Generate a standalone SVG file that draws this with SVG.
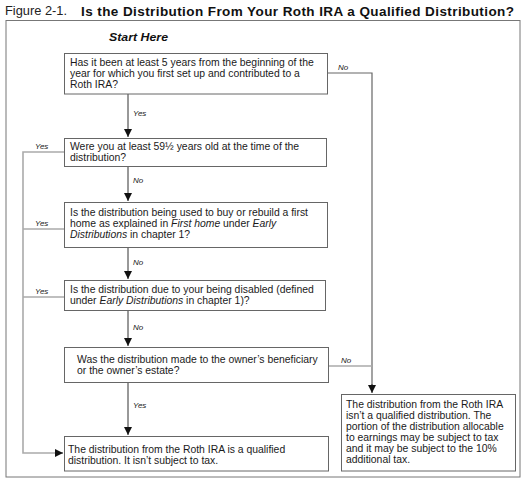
<svg xmlns="http://www.w3.org/2000/svg" width="525" height="480" viewBox="0 0 525 480">
<defs>
<marker id="ah" viewBox="0 0 8 8" refX="8" refY="4" markerWidth="8" markerHeight="8" markerUnits="userSpaceOnUse" orient="auto">
<path d="M0,0 L8,4 L0,8 Z" fill="#111"/>
</marker>
<style>
.t{font-family:"Liberation Sans",Arial,sans-serif;font-size:10.4px;fill:#1a1a1a}
.lbl{font-family:"Liberation Sans",Arial,sans-serif;font-size:8px;font-style:italic;fill:#222}
.box{fill:#fff;stroke:#666;stroke-width:1}
.dk{fill:none;stroke:#333;stroke-width:1}
.lt{fill:none;stroke:#aaa;stroke-width:1.6}
.md{fill:none;stroke:#666;stroke-width:1.2}
</style>
</defs>
<rect width="525" height="480" fill="#fff"/>
<text x="5" y="15" textLength="62" lengthAdjust="spacingAndGlyphs" style="font-family:'Liberation Sans',Arial,sans-serif;font-size:12px;fill:#222">Figure 2-1.</text>
<text x="81" y="15.5" textLength="433" lengthAdjust="spacing" style="font-family:'Liberation Sans',Arial,sans-serif;font-size:13.5px;font-weight:bold;fill:#111">Is the Distribution From Your Roth IRA a Qualified Distribution?</text>
<rect x="6" y="20.5" width="514" height="456.5" fill="none" stroke="#777" stroke-width="1"/>
<text x="109" y="41" textLength="59" lengthAdjust="spacingAndGlyphs" style="font-family:'Liberation Sans',Arial,sans-serif;font-size:11.5px;font-weight:bold;font-style:italic;fill:#111">Start Here</text>

<g id="connectors">
<line class="dk" x1="128" y1="93" x2="128" y2="137" marker-end="url(#ah)"/>
<text class="lbl" x="133" y="116">Yes</text>
<line class="dk" x1="128" y1="167" x2="128" y2="201" marker-end="url(#ah)"/>
<text class="lbl" x="133" y="183">No</text>
<line class="dk" x1="128" y1="248" x2="128" y2="279" marker-end="url(#ah)"/>
<text class="lbl" x="133" y="265">No</text>
<line class="dk" x1="128" y1="311" x2="128" y2="346" marker-end="url(#ah)"/>
<text class="lbl" x="133" y="330">No</text>
<line class="dk" x1="128" y1="383" x2="128" y2="435" marker-end="url(#ah)"/>
<text class="lbl" x="133" y="408">Yes</text>
<polyline class="md" points="327,73 372,73 372,385"/>
<line class="dk" x1="372" y1="384" x2="372" y2="393" marker-end="url(#ah)"/>
<text class="lbl" x="338" y="70">No</text>
<polyline class="lt" points="328,366 372,366"/>
<text class="lbl" x="341" y="363">No</text>
<polyline class="lt" points="64,152 23,152 23,453 56,453"/>
<line class="dk" x1="55" y1="453" x2="63" y2="453" marker-end="url(#ah)"/>
<line class="lt" x1="23" y1="229" x2="64" y2="229"/>
<line class="lt" x1="23" y1="297" x2="64" y2="297"/>
<text class="lbl" x="35" y="149">Yes</text>
<text class="lbl" x="35" y="226">Yes</text>
<text class="lbl" x="35" y="294">Yes</text>
</g>

<g id="q1">
<rect class="box" x="64.5" y="53.5" width="263" height="40.5"/>
<text class="t" x="70" y="66">Has it been at least 5 years from the beginning of the</text>
<text class="t" x="70" y="77">year for which you first set up and contributed to a</text>
<text class="t" x="70" y="88">Roth IRA?</text>
</g>
<g id="q2">
<rect class="box" x="64.5" y="138.5" width="262" height="28"/>
<text class="t" x="70" y="150">Were you at least 59½ years old at the time of the</text>
<text class="t" x="70" y="161">distribution?</text>
</g>
<g id="q3">
<rect class="box" x="64.5" y="202.5" width="263" height="45"/>
<text class="t" x="70" y="216">Is the distribution being used to buy or rebuild a first</text>
<text class="t" x="70" y="227">home as explained in <tspan font-style="italic">First home</tspan> under <tspan font-style="italic">Early</tspan></text>
<text class="t" x="70" y="238"><tspan font-style="italic">Distributions</tspan> in chapter 1?</text>
</g>
<g id="q4">
<rect class="box" x="64.5" y="280.5" width="261" height="30"/>
<text class="t" x="70" y="293">Is the distribution due to your being disabled (defined</text>
<text class="t" x="70" y="304">under <tspan font-style="italic">Early Distributions</tspan> in chapter 1)?</text>
</g>
<g id="q5">
<rect class="box" x="64.5" y="347.5" width="264" height="35"/>
<text class="t" x="77" y="363">Was the distribution made to the owner’s beneficiary</text>
<text class="t" x="77" y="374">or the owner’s estate?</text>
</g>
<g id="yes-result">
<rect class="box" x="64.5" y="436.5" width="264" height="34.5"/>
<text class="t" x="68" y="453">The distribution from the Roth IRA is a qualified</text>
<text class="t" x="68" y="464">distribution. It isn’t subject to tax.</text>
</g>
<g id="no-result">
<rect class="box" x="341.5" y="394.5" width="174" height="76.5"/>
<text class="t" x="346" y="408">The distribution from the Roth IRA</text>
<text class="t" x="346" y="419">isn’t a qualified distribution. The</text>
<text class="t" x="346" y="430">portion of the distribution allocable</text>
<text class="t" x="346" y="441">to earnings may be subject to tax</text>
<text class="t" x="346" y="452">and it may be subject to the 10%</text>
<text class="t" x="346" y="463">additional tax.</text>
</g>
</svg>
